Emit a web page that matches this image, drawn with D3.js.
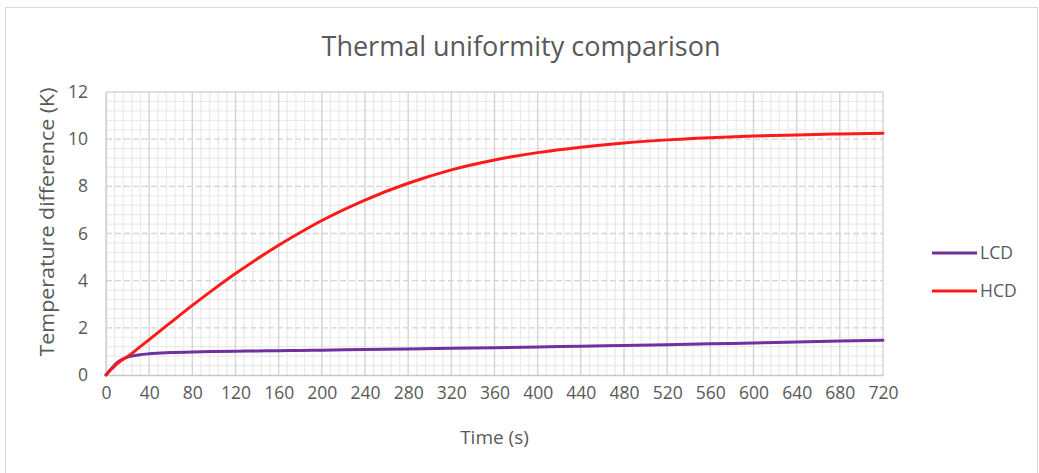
<!DOCTYPE html>
<html>
<head>
<meta charset="utf-8">
<script src="https://cdn.jsdelivr.net/npm/d3@7"></script>
<style>
  html, body { margin: 0; padding: 0; background: #fff; }
  svg text { font-family: "Open Sans", "Liberation Sans", sans-serif; fill: #595959; }
</style>
</head>
<body>
<svg id="chart" width="1039" height="473"></svg>
<script>
// Sampling instants (s)
const timeS = [0, 4, 8, 12, 16, 20, 30, 40, 60, 80, 100, 120, 140, 160, 180, 200,
               240, 280, 320, 360, 400, 440, 480, 520, 560, 600, 640, 680, 720];
// Temperature difference (K), low-conductivity design
const lcdValues = [0, 0.22, 0.42, 0.58, 0.69, 0.76, 0.85, 0.9, 0.95, 0.98, 1.0, 1.01, 1.02, 1.03, 1.04, 1.05,
                   1.08, 1.1, 1.13, 1.16, 1.19, 1.22, 1.25, 1.28, 1.32, 1.36, 1.4, 1.44, 1.47];
// Temperature difference (K), high-conductivity design
const hcdValues = [0, 0.2, 0.38, 0.54, 0.67, 0.78, 1.14, 1.5, 2.23, 2.95, 3.64, 4.3, 4.92, 5.5, 6.04, 6.55,
                   7.42, 8.13, 8.7, 9.12, 9.43, 9.66, 9.84, 9.97, 10.06, 10.13, 10.18, 10.22, 10.25];
const seriesNames = ["LCD", "HCD"];
const seriesColors = ["#7030A0", "#FF1A1A"];
const xTicks = d3.range(0, 721, 40);
const yTicks = [0, 2, 4, 6, 8, 10, 12];

const svg = d3.select("#chart");
const plot = { left: 106, top: 92, right: 883, bottom: 375 };

const x = d3.scaleLinear().domain([0, 720]).range([plot.left, plot.right]);
const y = d3.scaleLinear().domain([0, 12]).range([plot.bottom, plot.top]);

// chart frame
svg.append("rect")
  .attr("x", 5.5).attr("y", 7.5).attr("width", 1032).attr("height", 480)
  .attr("fill", "#fff").attr("stroke", "#D9D9D9").attr("stroke-width", 1);

// minor grid: every 8 s and every 0.4 K
const minorX = d3.range(0, 721, 8).filter(v => v % 40 !== 0);
const minorY = d3.range(0, 31).filter(i => i % 5 !== 0).map(i => i * 0.4);
const grid = svg.append("g");
grid.selectAll(".mx").data(minorX).join("line")
  .attr("x1", d => x(d)).attr("x2", d => x(d))
  .attr("y1", plot.top).attr("y2", plot.bottom)
  .attr("stroke", "#EAEAEA").attr("stroke-width", 1.2);
grid.selectAll(".my").data(minorY).join("line")
  .attr("x1", plot.left).attr("x2", plot.right)
  .attr("y1", d => y(d)).attr("y2", d => y(d))
  .attr("stroke", "#EAEAEA").attr("stroke-width", 1.2);

// major grid
grid.selectAll(".Mx").data(xTicks).join("line")
  .attr("x1", d => x(d)).attr("x2", d => x(d))
  .attr("y1", plot.top).attr("y2", plot.bottom)
  .attr("stroke", "#D4D4D4").attr("stroke-width", 1.4);
grid.selectAll(".My").data(yTicks.filter(v => v > 0)).join("line")
  .attr("x1", plot.left).attr("x2", plot.right)
  .attr("y1", d => y(d)).attr("y2", d => y(d))
  .attr("stroke", "#D4D4D4").attr("stroke-width", 1.4)
  .attr("stroke-dasharray", d => d === 12 ? null : "6,3");

// x axis
const xAxis = svg.append("g")
  .attr("transform", `translate(0,${plot.bottom})`)
  .call(d3.axisBottom(x).tickValues(xTicks).tickSize(0).tickPadding(12));
xAxis.select(".domain").attr("stroke", "#C8C8C8").attr("stroke-width", 1.4);
xAxis.selectAll("text").attr("font-size", "17.5px").attr("fill", "#595959")
  .style("font-family", '"Open Sans", sans-serif');

// y axis
const yAxis = svg.append("g")
  .attr("transform", `translate(${plot.left},0)`)
  .call(d3.axisLeft(y).tickValues(yTicks).tickSize(0).tickPadding(18));
yAxis.select(".domain").attr("stroke", "#D4D4D4").attr("stroke-width", 1.4);
yAxis.selectAll("text").attr("font-size", "17.5px").attr("fill", "#595959")
  .style("font-family", '"Open Sans", sans-serif');

// series
const line = d3.line().x(d => x(d[0])).y(d => y(d[1])).curve(d3.curveMonotoneX);
const series = [lcdValues, hcdValues];
series.forEach((vals, i) => {
  svg.append("path")
    .datum(timeS.map((t, j) => [t, vals[j]]))
    .attr("fill", "none")
    .attr("stroke", seriesColors[i])
    .attr("stroke-width", 3)
    .attr("stroke-linejoin", "round")
    .attr("stroke-linecap", "round")
    .attr("d", line);
});

// title
svg.append("text")
  .attr("x", 521).attr("y", 56)
  .attr("text-anchor", "middle")
  .attr("font-size", "27px")
  .text("Thermal uniformity comparison");

// axis titles
svg.append("text")
  .attr("x", (plot.left + plot.right) / 2).attr("y", 444)
  .attr("text-anchor", "middle")
  .attr("font-size", "19px")
  .text("Time (s)");
svg.append("text")
  .attr("transform", `translate(54,222) rotate(-90)`)
  .attr("text-anchor", "middle")
  .attr("font-size", "20px")
  .attr("textLength", 269)
  .attr("lengthAdjust", "spacingAndGlyphs")
  .text("Temperature difference (K)");

// legend
const legend = svg.append("g");
seriesNames.forEach((name, i) => {
  const ly = 253 + i * 38;
  legend.append("line")
    .attr("x1", 932).attr("x2", 977).attr("y1", ly).attr("y2", ly)
    .attr("stroke", seriesColors[i]).attr("stroke-width", 3);
  legend.append("text")
    .attr("x", 980).attr("y", ly).attr("dy", "0.35em")
    .attr("font-size", "17.5px")
    .text(name);
});
</script>
</body>
</html>
